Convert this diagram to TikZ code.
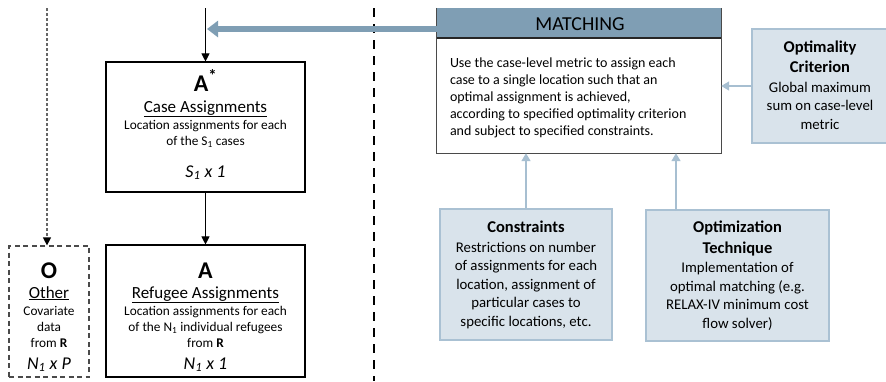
\documentclass[tikz,border=0pt]{standalone}
\usepackage{fontspec}
\setmainfont{Carlito}
\usetikzlibrary{arrows.meta,calc}
\definecolor{hdrblue}{HTML}{7F9EB4}
\definecolor{lightfill}{HTML}{D9E3EB}
\definecolor{lightedge}{HTML}{AAC1D3}
\definecolor{lightarrow}{HTML}{A7BFD1}
\definecolor{darkedge}{HTML}{4A4A4A}
\begin{document}
\begin{tikzpicture}[x=1pt,y=-1pt,
  blackbox/.style={draw=black, line width=1.1pt, fill=white, inner sep=0pt},
  dashbox/.style={draw=darkedge, line width=1.2pt, dash pattern=on 5pt off 3.5pt, inner sep=0pt},
  lightbox/.style={draw=lightedge, fill=lightfill, line width=1.2pt, inner sep=0pt},
  txt/.style={anchor=base, inner sep=0pt, outer sep=0pt},
  bigletter/.style={txt, font=\fontsize{24}{26}\selectfont\bfseries},
  ttl/.style={txt, font=\fontsize{17}{20}\selectfont},
  small/.style={txt, font=\fontsize{13.3}{15}\selectfont},
  dims/.style={txt, font=\fontsize{18}{21}\selectfont\itshape},
  body/.style={txt, font=\fontsize{14}{16}\selectfont},
  lbtitle/.style={txt, font=\fontsize{16.5}{19}\selectfont\bfseries},
  lbtext/.style={txt, font=\fontsize{14.8}{17}\selectfont},
  blkarrow/.style={draw=black, line width=0.9pt, -{Triangle[width=8pt,length=8pt]}},
  lightarr/.style={draw=lightarrow, line width=1.5pt, -{Triangle[width=9pt,length=8pt]}},
  thickarr/.style={draw=hdrblue, line width=6pt, -{Triangle[width=16pt,length=11pt]}},
]
\fill[white] (0,0) rectangle (886,381);
\useasboundingbox (0,0) rectangle (886,381);

% separator
\coordinate (sepTop) at (374,8);
\coordinate (sepBot) at (374,381);
\draw[black, line width=2.7pt, dash pattern=on 9pt off 7pt] (sepTop) -- (sepBot);

% left boxes
\node[blackbox, minimum width=199pt, minimum height=130pt] (astar) at (205.5,127) {};
\node[blackbox, minimum width=199pt, minimum height=132pt] (abox) at (205.5,311) {};
\node[dashbox, minimum width=80pt, minimum height=131pt] (obox) at (49,311.5) {};

\node[bigletter] (astarT) at (205.5,91) {A\textsuperscript{*}};
\node[ttl] (astarN) at (205.5,112) {\underline{Case Assignments}};
\node[small] (astarL1) at (205.5,129.5) {Location assignments for each};
\node[small] (astarL2) at (205.5,145.5) {of the S\textsubscript{1} cases};
\node[dims] (astarD) at (205.5,177) {S\textsubscript{1} x 1};

\node[bigletter] (aT) at (205.5,278) {A};
\node[ttl] (aN) at (205.5,298) {\underline{Refugee Assignments}};
\node[small] (aL1) at (205.5,315.5) {Location assignments for each};
\node[small] (aL2) at (205.5,331.5) {of the N\textsubscript{1} individual refugees};
\node[small] (aL3) at (205.5,347.5) {from \textbf{R}};
\node[dims] (aD) at (205.5,369) {N\textsubscript{1} x 1};

\node[bigletter] (oT) at (49,278) {O};
\node[ttl] (oN) at (49,298) {\underline{Other}};
\node[small] (oL1) at (49,315.5) {Covariate};
\node[small] (oL2) at (49,331.5) {data};
\node[small] (oL3) at (49,347.5) {from \textbf{R}};
\node[dims] (oD) at (49,369) {N\textsubscript{1} x P};

% left connectors
\coordinate (aTop) at (205.5,8);
\draw[blkarrow] (aTop) -- (astar.north);
\draw[blkarrow] (astar.south) -- (abox.north);
\coordinate (oTop) at (47,8);
\draw[draw=black!60, line width=1.2pt, dash pattern=on 3pt off 2pt, -{Triangle[width=8pt,length=8pt,black]}] (oTop) -- (obox.north -| oTop);

% matching
\node[fill=white, inner sep=0pt, minimum width=284pt, minimum height=145pt] (match) at (579,80.5) {};
\node[fill=hdrblue, inner sep=0pt, minimum width=284pt, minimum height=30pt, anchor=north] (hdr) at (match.north) {};
\draw[darkedge, line width=1pt] (match.north west) -- (match.south west) -- (match.south east) -- (match.north east);
\draw[black!85, line width=1.8pt] (hdr.south west) -- (hdr.south east);
\node[txt, font=\fontsize{19.8}{22}\selectfont] (hdrT) at (580,30.5) {MATCHING};
\node[body, anchor=base west] (m1) at (450,67) {Use the case-level metric to assign each};
\node[body, anchor=base west] (m2) at (450,84.5) {case to a single location such that an};
\node[body, anchor=base west] (m3) at (450,101.5) {optimal assignment is achieved,};
\node[body, anchor=base west] (m4) at (450,118.5) {according to specified optimality criterion};
\node[body, anchor=base west] (m5) at (450,135.5) {and subject to specified constraints.};

% light boxes
\node[lightbox, minimum width=136pt, minimum height=114pt] (opt) at (820,86) {};
\node[lbtitle] (optT1) at (820,52.5) {Optimality};
\node[lbtitle] (optT2) at (820,72.5) {Criterion};
\node[lbtext] (optL1) at (820,92) {Global maximum};
\node[lbtext] (optL2) at (820,110.5) {sum on case-level};
\node[lbtext] (optL3) at (820,129) {metric};

\node[lightbox, minimum width=172pt, minimum height=131pt] (cons) at (526,274.5) {};
\node[lbtitle] (consT) at (526,232.5) {Constraints};
\node[lbtext] (consL1) at (526,252) {Restrictions on number};
\node[lbtext] (consL2) at (526,270.5) {of assignments for each};
\node[lbtext] (consL3) at (526,289) {location, assignment of};
\node[lbtext] (consL4) at (526,307.5) {particular cases to};
\node[lbtext] (consL5) at (526,326) {specific locations, etc.};

\node[lightbox, minimum width=183pt, minimum height=131pt] (tech) at (737.5,275.5) {};
\node[lbtitle] (techT1) at (737.5,232.5) {Optimization};
\node[lbtitle] (techT2) at (737.5,253) {Technique};
\node[lbtext] (techL1) at (737.5,272.5) {Implementation of};
\node[lbtext] (techL2) at (737.5,291) {optimal matching (e.g.};
\node[lbtext] (techL3) at (737.5,309.5) {RELAX-IV minimum cost};
\node[lbtext] (techL4) at (737.5,328) {flow solver)};

% right connectors
\coordinate (thickEnd) at (207,29);
\draw[thickarr] (match.west |- thickEnd) -- (thickEnd);
\draw[lightarr] (opt.west) -- (match.east |- opt.west);
\draw[lightarr] (cons.north) -- (match.south -| cons.north);
\coordinate (techTop) at (676,210);
\draw[lightarr] (techTop) -- (match.south -| techTop);
\end{tikzpicture}
\end{document}
